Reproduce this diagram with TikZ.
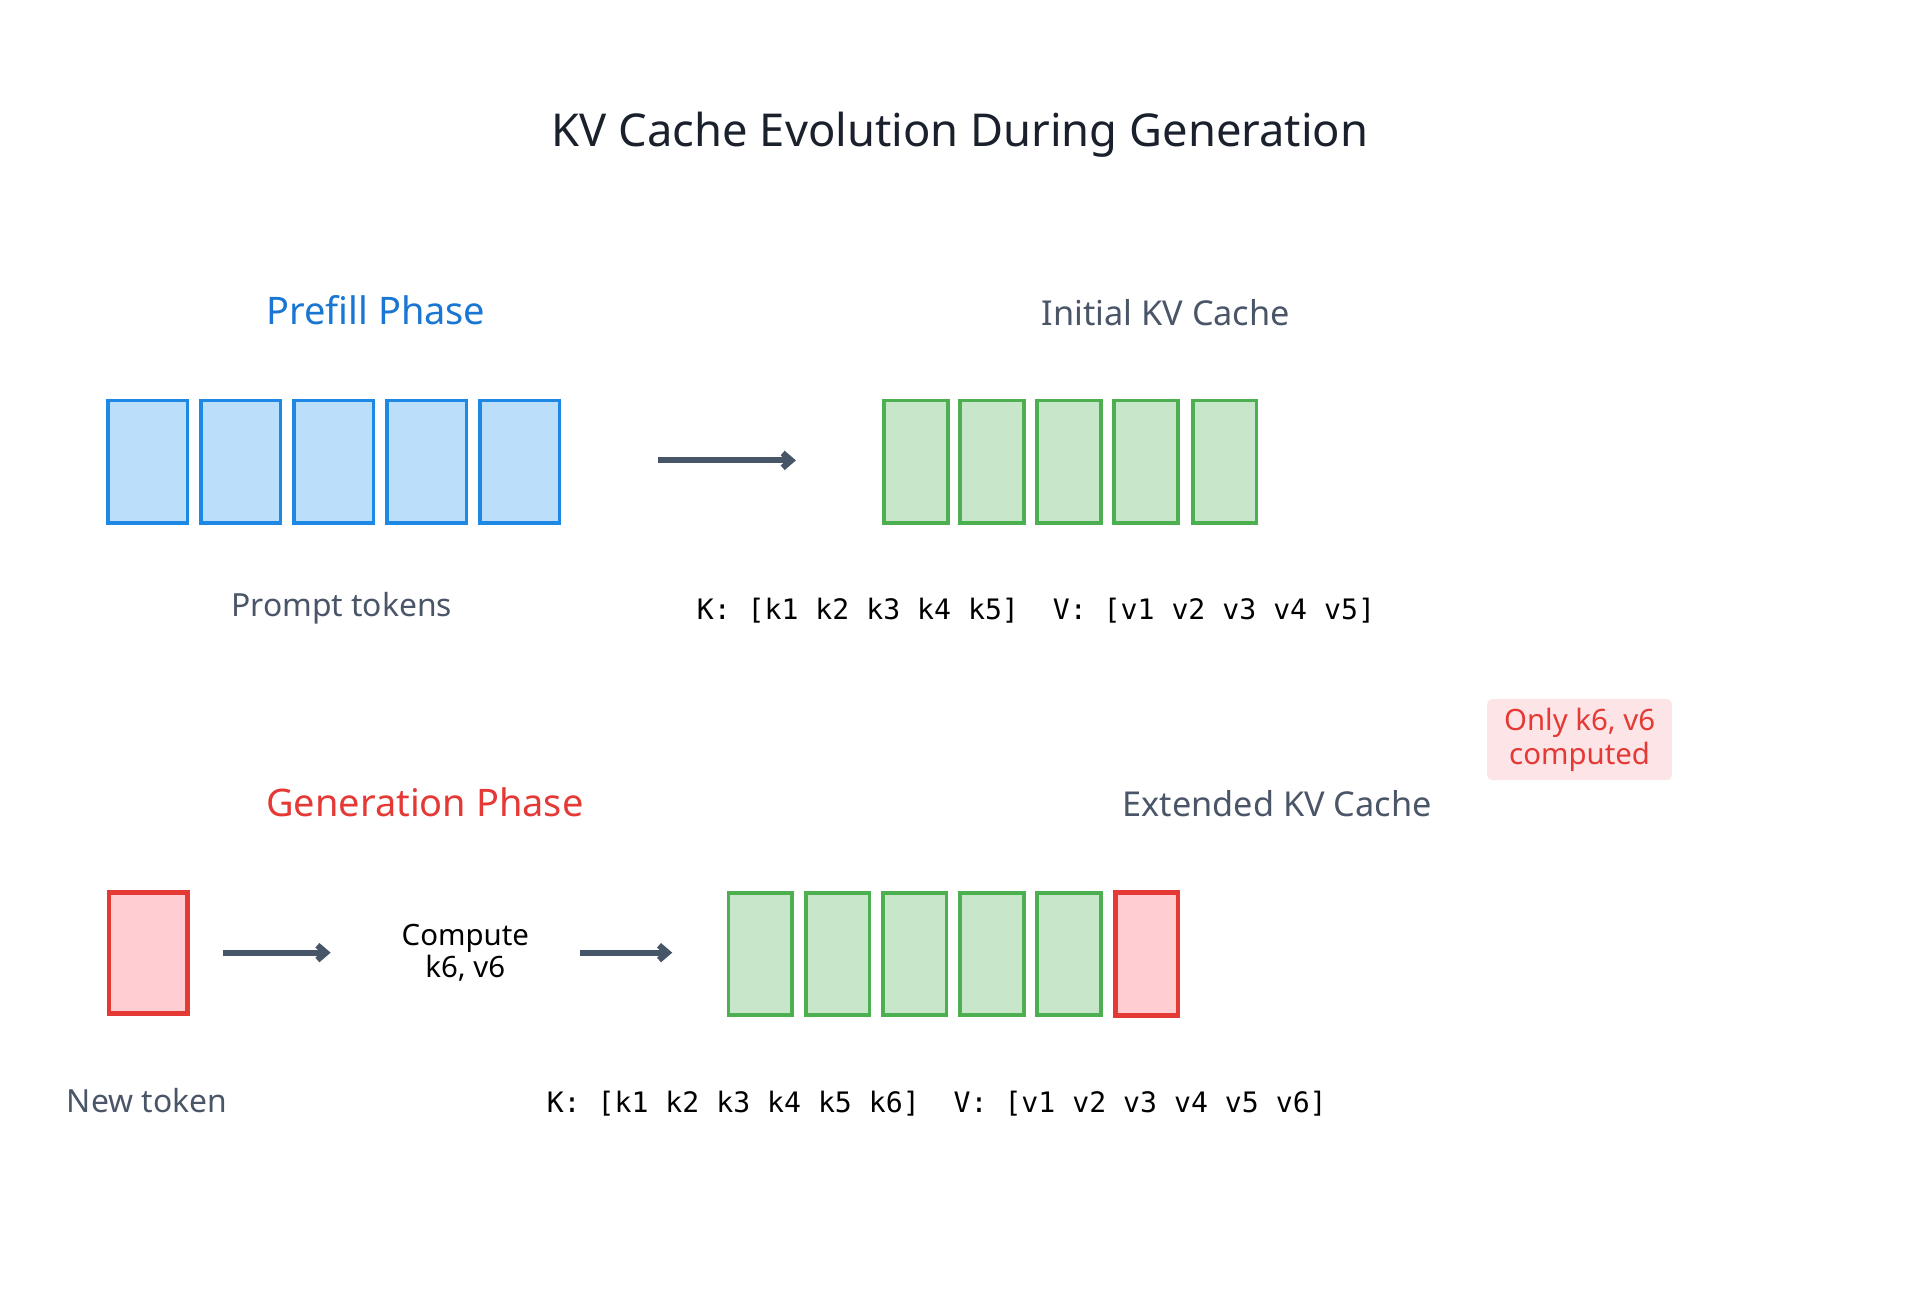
\documentclass[tikz,border=0pt]{standalone}
\usepackage{fontspec}
\setmainfont{Noto Sans}
\setmonofont{DejaVu Sans Mono}
\usetikzlibrary{arrows.meta}
\definecolor{tblue}{HTML}{1976D2}
\definecolor{bfill}{HTML}{BBDEFB}
\definecolor{bdraw}{HTML}{1E88E5}
\definecolor{gfill}{HTML}{C8E6C9}
\definecolor{gdraw}{HTML}{4CAF50}
\definecolor{rfill}{HTML}{FFCDD2}
\definecolor{rdraw}{HTML}{E53935}
\definecolor{gtext}{HTML}{4A5568}
\definecolor{arr}{HTML}{475569}
\definecolor{title}{HTML}{1A202C}
\definecolor{note}{HTML}{FDE4E6}
\begin{document}
\begin{tikzpicture}[x=1pt,y=-1pt,
  blk/.style={draw=bdraw,fill=bfill,line width=3pt},
  grn/.style={draw=gdraw,fill=gfill,line width=3pt},
  red/.style={draw=rdraw,fill=rfill,line width=4pt},
  ar/.style={draw=arr,line width=5pt,-{Straight Barb[length=7pt,width=12pt]}},
  lab/.style={text=gtext,font=\fontsize{26}{30}\selectfont},
  mono/.style={text=black,font=\ttfamily\fontsize{23}{28}\selectfont}]
\useasboundingbox (0,0) rectangle (1568,1055);
\node[text=title,font=\fontsize{37}{44}\selectfont] (t) at (784,110) {KV Cache Evolution During Generation};
\node[text=tblue,font=\fontsize{31}{36}\selectfont] (pp) at (307,253) {Prefill Phase};
\node[lab,font=\fontsize{28}{32}\selectfont] (ikv) at (952,255) {Initial KV Cache};
\foreach \x [count=\i] in {88,164,240,316,392}
  \draw[blk] (\x,327) rectangle ++(65,100) coordinate (b\i);
\foreach \x [count=\i] in {722,784,847,910,974}
  \draw[grn] (\x,327) rectangle ++(52,100) coordinate (g\i);
\coordinate (a1s) at (537,376); \coordinate (a1e) at (650,376);
\draw[ar] (a1s) -- (a1e);
\node[lab] (pt) at (279,497) {Prompt tokens};
\node[mono] (k1) at (846,499) {K: [k1 k2 k3 k4 k5]\ \ V: [v1 v2 v3 v4 v5]};
\node[fill=note,rounded corners=4pt,text=rdraw,align=center,minimum width=151,minimum height=66,inner sep=2pt,font=\fontsize{24}{28}\selectfont] (nt) at (1290,604) {Only k6, v6\\computed};
\node[text=rdraw,font=\fontsize{31}{36}\selectfont] (gp) at (347,655) {Generation Phase};
\node[lab,font=\fontsize{28}{32}\selectfont] (ekv) at (1043,656) {Extended KV Cache};
\draw[red] (89,729) rectangle (153,828);
\coordinate (a2s) at (182,778); \coordinate (a2e) at (270,778);
\draw[ar] (a2s) -- (a2e);
\node[align=center,font=\fontsize{24}{26}\selectfont] (cmp) at (380,778) {Compute\\k6, v6};
\coordinate (a3s) at (474,778); \coordinate (a3e) at (549,778);
\draw[ar] (a3s) -- (a3e);
\foreach \x [count=\i] in {595,658,721,784,847}
  \draw[grn] (\x,729) rectangle ++(52,100) coordinate (h\i);
\draw[red] (911,729) rectangle (962,829);
\node[lab] (nw) at (120,899) {New token};
\node[mono] (k2) at (765,901) {K: [k1 k2 k3 k4 k5 k6]\ \ V: [v1 v2 v3 v4 v5 v6]};
\end{tikzpicture}
\end{document}
